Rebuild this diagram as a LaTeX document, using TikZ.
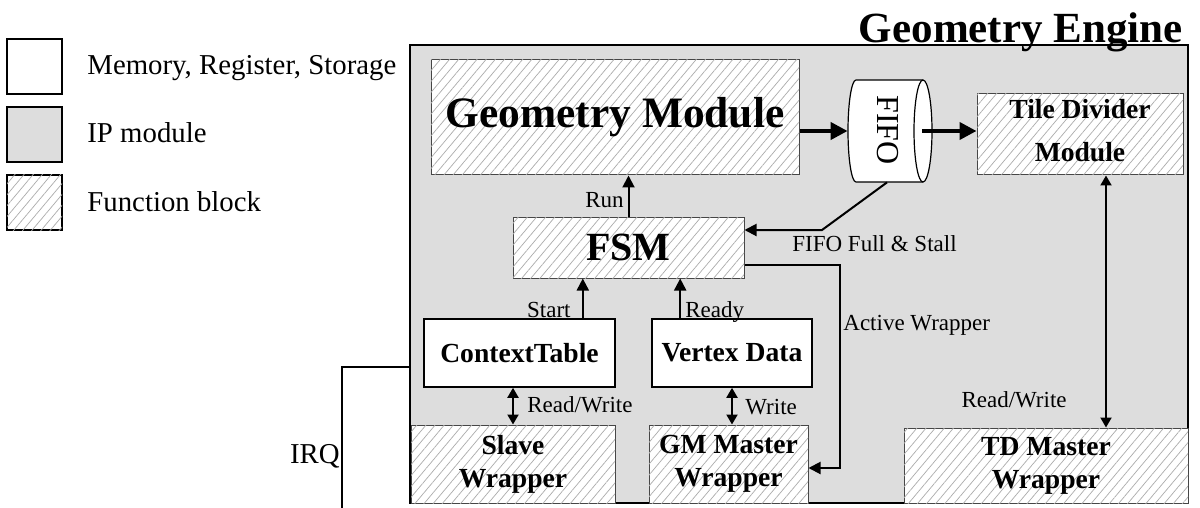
\documentclass[tikz,border=0pt]{standalone}
\usepackage{fontspec}
\setmainfont{Liberation Serif}
\usetikzlibrary{arrows.meta,patterns.meta}
\begin{document}
\begin{tikzpicture}[x=0.5pt,y=-0.5pt,
  hatch/.style={draw=gray!55!black, line width=0.5pt, fill=white,
    postaction={pattern={Lines[angle=50,distance=3.5pt,line width=0.35pt]}, pattern color=gray!65}},
  mem/.style={draw=black, line width=0.8pt, fill=white},
  boxtext/.style={font=\fontsize{13.8}{16.5}\selectfont\bfseries, align=center, inner sep=0pt},
  lab/.style={font=\fontsize{11.5}{13}\selectfont, inner sep=0pt},
  leg/.style={font=\fontsize{14.4}{16}\selectfont, inner sep=0pt},
  arr/.style={-{Triangle[length=6pt,width=6pt]}, line width=1pt},
  darr/.style={{Triangle[length=5pt,width=5.5pt]}-{Triangle[length=5pt,width=5.5pt]}, line width=1pt},
  thick arr/.style={-{Triangle[length=8.5pt,width=8.5pt]}, line width=2pt},
  wire/.style={line width=1pt}
]
\useasboundingbox (0,0) rectangle (1200,508);

% legend
\node[mem, minimum width=27.5pt, minimum height=27.5pt, inner sep=0pt] (legmem) at (34.5,66.5) {};
\node[draw=black, line width=0.8pt, fill=gray!27, minimum width=27.5pt, minimum height=27.5pt, inner sep=0pt] (legip) at (34.5,134.5) {};
\node[hatch, draw=black, line width=0.8pt, minimum width=27.5pt, minimum height=27.5pt, inner sep=0pt] (legfb) at (34.5,202.5) {};
\node[leg, anchor=base west] (t1) at (87,75) {Memory, Register, Storage};
\node[leg, anchor=base west] (t2) at (87,142) {IP module};
\node[leg, anchor=base west] (t3) at (87,212) {Function block};

% main IP box
\node[draw=black, line width=1pt, fill=gray!27, minimum width=389pt, minimum height=229pt, inner sep=0pt] (main) at (799,274) {};

% title (drawn over the box edge)
\node[font=\fontsize{21.5}{24}\selectfont\bfseries, inner sep=0pt, anchor=base east] (title) at (1183,43) {Geometry Engine};

% function blocks
\node[hatch, minimum width=184pt, minimum height=57.5pt, inner sep=0pt, font=\fontsize{21.7}{24}\selectfont\bfseries] (GM) at (615,117.5) {Geometry Module};
\node[hatch, boxtext, font=\fontsize{13.8}{21.5}\selectfont\bfseries, text depth=4pt, minimum width=103pt, minimum height=40.5pt] (TDM) at (1080,134.5) {Tile Divider\\Module};
\node[hatch, minimum width=115.5pt, minimum height=30.5pt, inner sep=0pt, font=\fontsize{20}{22}\selectfont\bfseries] (FSM) at (628.5,247.5) {FSM};
\node[mem, boxtext, minimum width=95.5pt, minimum height=34pt] (CT) at (519.5,353) {ContextTable};
\node[mem, boxtext, minimum width=80pt, minimum height=34pt] (VD) at (732,353) {Vertex Data};
\node[hatch, boxtext, minimum width=102pt, minimum height=39pt] (SW) at (513,464) {Slave\\Wrapper};
\node[hatch, boxtext, minimum width=79.5pt, minimum height=39pt] (GMW) at (728.5,464) {GM Master\\Wrapper};
\node[hatch, boxtext, minimum width=142pt, minimum height=37.5pt] (TDW) at (1046,465.5) {TD Master\\Wrapper};

% FIFO (horizontal cylinder)
\node[minimum width=42pt, minimum height=51pt, inner sep=0pt] (FIFO) at (890,131) {};
\draw[line width=0.6pt, fill=white] (856,80) -- (923,80)
  arc[start angle=-90, end angle=90, x radius=9, y radius=51] -- (856,182)
  arc[start angle=90, end angle=270, x radius=8, y radius=51] -- cycle;
\draw[line width=0.6pt] (923,80) arc[start angle=-90, end angle=-270, x radius=9, y radius=51];
\node[rotate=-90, font=\fontsize{16}{18}\selectfont, inner sep=0pt] (fifotext) at (888,130) {FIFO};

% thick data path
\draw[thick arr] (GM.east |- FIFO.west) -- (FIFO.west);
\draw[thick arr] ([xshift=-5pt]FIFO.east) -- (TDM.west |- FIFO.east);

% control signals
\draw[arr] (FSM.north) -- (FSM.north |- GM.south);
\node[lab, anchor=base east] (lrun) at (624,207) {Run};

\draw[arr] ([xshift=-16.5pt]CT.north east) -- ([xshift=-16.5pt]CT.north east |- FSM.south);
\node[lab, anchor=base east] (lstart) at (571,317) {Start};

\draw[arr] ([xshift=14.5pt]VD.north west) -- ([xshift=14.5pt]VD.north west |- FSM.south);
\node[lab, anchor=base west] (lready) at (685,317) {Ready};

\coordinate (fb) at (822,230);
\draw[arr] ([xshift=-1.5pt]FIFO.south) -- (fb) -- (fb -| FSM.east);
\node[lab, anchor=base west] (lfull) at (792,251) {FIFO Full \& Stall};

\coordinate (aw) at (840,265);
\draw[arr] ([yshift=-8.75pt]FSM.east) -- (aw) |- ([yshift=-2pt]GMW.east);
\node[lab, anchor=base west] (lact) at (843,330) {Active Wrapper};

\draw[darr] (CT.south -| SW.north) -- (SW.north);
\node[lab, anchor=base west] (lrw1) at (527,412) {Read/Write};

\draw[darr] (VD.south) -- (VD.south |- GMW.north);
\node[lab, anchor=base west] (lw) at (745,414) {Write};

\draw[darr] ([xshift=13pt]TDM.south) -- ([xshift=13pt]TDM.south |- TDW.north);
\node[lab, anchor=base east] (lrw2) at (1067,407) {Read/Write};

% IRQ
\coordinate (irq) at (342,508);
\draw[wire] (main.west |- 0,367) -- (irq |- 0,367) -- (irq);
\node[leg, anchor=base east] (lirq) at (340,463) {IRQ};
\end{tikzpicture}
\end{document}
